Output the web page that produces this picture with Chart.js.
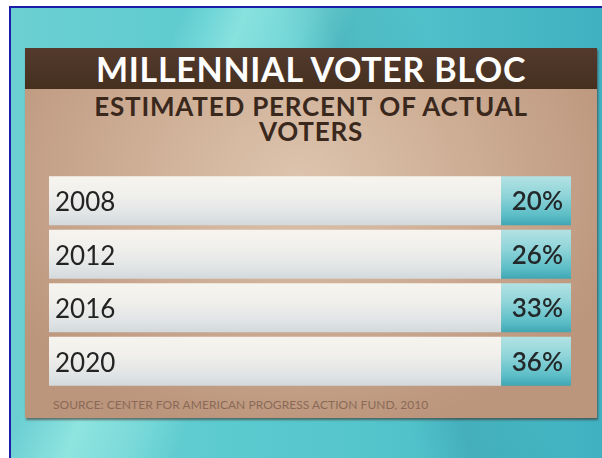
<!DOCTYPE html>
<html>
<head>
<meta charset="utf-8">
<script src="https://cdn.jsdelivr.net/npm/chart.js@4.4.1/dist/chart.umd.min.js"></script>
<style>
  html, body { margin: 0; padding: 0; background: #ffffff; width: 602px; height: 458px; overflow: hidden; }
  #frame {
    position: absolute; left: 9px; top: 6px; width: 600px; height: 460px;
    border-left: 2px solid #1b1ea8; border-top: 2px solid #1b1ea8;
    background:
      linear-gradient(112deg, rgba(0,0,0,0) 0%, rgba(0,0,0,0) 22%, rgba(190,255,240,0.45) 30%, rgba(190,255,240,0.25) 38%, rgba(0,0,0,0) 44%),
      linear-gradient(72deg, rgba(0,0,0,0) 55%, rgba(0,60,80,0.10) 62%, rgba(0,0,0,0) 75%),
      linear-gradient(90deg, #6ccfd2 0%, #5ccbd0 35%, #55c5cc 60%, #3eb0c0 100%);
  }
  #panel {
    position: absolute; left: 25px; top: 48px; width: 572px; height: 370px;
    background: radial-gradient(ellipse 60% 70% at 48% 35%, #ddc4ae 0%, #cfb097 45%, #bb957c 100%);
    box-shadow: 1px 2px 2px rgba(60,30,20,0.55);
  }
  #titlebar {
    position: absolute; left: 25px; top: 48px; width: 572px; height: 41px;
    background: linear-gradient(180deg, #533a2d 0%, #45301f 100%);
  }
  #title {
    position: absolute; left: 25px; top: 48px; width: 572px; height: 41px;
    font-family: 'Lato', sans-serif; font-weight: 700; font-size: 34px; line-height: 42px;
    color: #ffffff; text-align: center; letter-spacing: 0.7px;
  }
  #subtitle {
    position: absolute; left: 25px; top: 94px; width: 572px;
    font-family: 'Lato', sans-serif; font-weight: 700; font-size: 26px; line-height: 25px;
    color: #3a281d; text-align: center; letter-spacing: 0.8px;
  }
  #source {
    position: absolute; left: 53px; top: 398px;
    font-family: 'Lato', sans-serif; font-weight: 400; font-size: 12px; line-height: 13px;
    color: #8a6a57; letter-spacing: 0.05px;
  }
  #wrap { position: absolute; left: 49px; top: 174px; width: 522px; height: 214px; }
</style>
</head>
<body>
<div id="frame"></div>
<div id="panel"></div>
<div id="titlebar"></div>
<div id="title">MILLENNIAL VOTER BLOC</div>
<div id="subtitle">ESTIMATED PERCENT OF ACTUAL<br>VOTERS</div>
<div id="source">SOURCE: CENTER FOR AMERICAN PROGRESS ACTION FUND, 2010</div>
<div id="wrap"><canvas id="c" width="522" height="214"></canvas></div>
<script>
// ---- data ----
const categories = ['2008', '2012', '2016', '2020'];
const values = [20, 26, 33, 36];          // estimated percent of actual voters
const valueLabels = values.map(v => v + '%');

// ---- layout constants (not data) ----
const TRACK = 86.6;   // share of the row used by the label track
const BOX = 13.4;     // share of the row used by the value box
const BAR_PCT = 0.915;

function rowGradient(ctx, stops, fallback) {
  if (ctx.type !== 'data') return fallback;
  const chart = ctx.chart;
  const ys = chart.scales.y;
  if (!ys || !chart.chartArea) return fallback;
  const yc = ys.getPixelForValue(ctx.dataIndex);
  const h = (ys.height / categories.length) * BAR_PCT;
  const g = chart.ctx.createLinearGradient(0, yc - h / 2, 0, yc + h / 2);
  stops.forEach(s => g.addColorStop(s[0], s[1]));
  return g;
}

const labelPlugin = {
  id: 'rowLabels',
  afterDatasetsDraw(chart) {
    const c = chart.ctx;
    const ys = chart.scales.y;
    const left = chart.chartArea.left;
    c.save();
    c.textBaseline = 'middle';
    // category labels (from the y scale)
    c.font = '400 26px Lato, sans-serif';
    c.fillStyle = '#232323';
    c.textAlign = 'left';
    ys.ticks.forEach((t, i) => {
      c.fillText(ys.getLabelForValue(t.value), left + 6, ys.getPixelForTick(i) + 2);
    });
    // value labels inside the value boxes
    const meta = chart.getDatasetMeta(1);
    c.font = '600 26px Lato, sans-serif';
    c.fillStyle = '#23292a';
    c.textAlign = 'right';
    meta.data.forEach((el, i) => {
      c.fillText(valueLabels[i], el.x - 8, el.y + 1);
    });
    c.restore();
  }
};

new Chart(document.getElementById('c'), {
  type: 'bar',
  data: {
    labels: categories,
    datasets: [
      {
        label: 'track',
        data: categories.map(() => TRACK),
        backgroundColor: ctx => rowGradient(ctx, [[0, '#f7f4ef'], [0.35, '#f1f0ec'], [0.75, '#e2e5e6'], [1, '#d3d9dc']], '#ececea'),
        borderWidth: 0,
        barPercentage: BAR_PCT,
        categoryPercentage: 1
      },
      {
        label: 'value',
        data: values.map(() => BOX),
        backgroundColor: ctx => rowGradient(ctx, [[0, '#b3e2e3'], [0.4, '#8ed4d9'], [0.8, '#5bbdc6'], [1, '#3fa6b3']], '#7fcdd3'),
        borderWidth: 0,
        barPercentage: BAR_PCT,
        categoryPercentage: 1
      }
    ]
  },
  options: {
    indexAxis: 'y',
    responsive: false,
    animation: false,
    layout: { padding: 0 },
    plugins: { legend: { display: false }, tooltip: { enabled: false }, title: { display: false } },
    scales: {
      x: { stacked: true, display: false, min: 0, max: TRACK + BOX },
      y: { stacked: true, display: false }
    }
  },
  plugins: [labelPlugin]
});
</script>
</body>
</html>
